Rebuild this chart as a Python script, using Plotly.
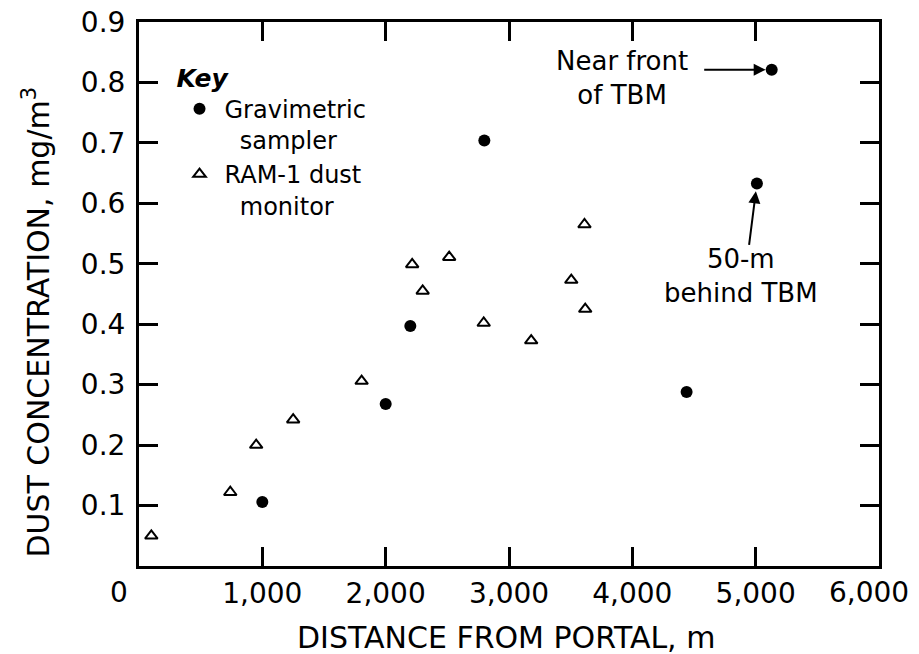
import plotly.graph_objects as go

# Gravimetric sampler (filled circles)
grav_x = [1000, 2000, 2200, 2800, 4440, 5010, 5130]
grav_y = [0.106, 0.268, 0.397, 0.704, 0.288, 0.633, 0.821]

# RAM-1 dust monitor (open triangles)
ram_x = [100, 740, 950, 1250, 1805, 2215, 2300, 2515, 2795, 3180, 3505, 3612, 3618]
ram_y = [0.050, 0.122, 0.200, 0.242, 0.306, 0.499, 0.455, 0.511, 0.402, 0.373, 0.473, 0.565, 0.425]

x_tickvals = [0, 1000, 2000, 3000, 4000, 5000, 6000]
x_ticktext = ["0", "1,000", "2,000", "3,000", "4,000", "5,000", "6,000"]
y_tickvals = [0.1, 0.2, 0.3, 0.4, 0.5, 0.6, 0.7, 0.8, 0.9]
y_ticktext = ["0.1", "0.2", "0.3", "0.4", "0.5", "0.6", "0.7", "0.8", "0.9"]

FONT = "DejaVu Sans"

fig = go.Figure()
fig.add_trace(go.Scatter(
    x=grav_x, y=grav_y, mode="markers",
    name="Gravimetric<br>\u00a0\u00a0sampler",
    marker=dict(symbol="circle", size=12, color="black"),
))
fig.add_trace(go.Scatter(
    x=ram_x, y=ram_y, mode="markers",
    name="RAM-1 dust<br>\u00a0\u00a0monitor",
    marker=dict(symbol="triangle-up-open", size=11, color="black",
                line=dict(width=2, color="black")),
))

axis_common = dict(
    showline=True, linewidth=3, linecolor="black", mirror="ticks",
    ticks="inside", ticklen=19, tickwidth=2.5, tickcolor="black",
    showgrid=False, zeroline=False, automargin=False,
    ticklabeloverflow="allow",
    tickfont=dict(family=FONT, size=28, color="black"),
)

# the end labels "0" and "6,000" sit slightly inward/outward of the corners
# in the reference, so they are drawn separately from the same tick list
x_ticktext_axis = [""] + x_ticktext[1:-1] + [""]
fig.update_xaxes(range=[0, 6000], tickmode="array", tickvals=x_tickvals,
                 ticktext=x_ticktext_axis, ticklabelstandoff=0, **axis_common)
fig.update_yaxes(range=[0, 0.9], tickmode="array", tickvals=y_tickvals,
                 ticktext=y_ticktext, ticklabelstandoff=5, **axis_common)

for i, shift in ((0, -20), (-1, -10)):
    fig.add_annotation(
        text=x_ticktext[i], x=x_tickvals[i], y=0, xref="x", yref="y",
        showarrow=False, xanchor="center", yanchor="top", xshift=shift, yshift=-8,
        font=dict(family=FONT, size=28, color="black"))

fig.add_annotation(
    text="DISTANCE FROM PORTAL, m", xref="paper", yref="paper",
    x=0.496, y=-0.1315, showarrow=False, xanchor="center", yanchor="middle",
    font=dict(family=FONT, size=30, color="black"))
fig.add_annotation(
    text="DUST CONCENTRATION, mg/m<sup>3</sup>", xref="paper", yref="paper",
    x=-0.138, y=0.449, showarrow=False, textangle=-90,
    xanchor="center", yanchor="middle",
    font=dict(family=FONT, size=30, color="black"))

# Labels with arrows
fig.add_annotation(
    text="Near front<br>of TBM", x=3917, y=0.807, showarrow=False,
    align="center", xanchor="center", yanchor="middle",
    font=dict(family=FONT, size=26, color="black"))
fig.add_annotation(
    text="", x=grav_x[6], y=grav_y[6], showarrow=True, ax=-69, ay=0,
    arrowhead=2, arrowsize=1.2, arrowwidth=2, arrowcolor="black", standoff=6)
fig.add_annotation(
    text="50-m<br>behind TBM", x=4882, y=0.48, showarrow=False,
    align="center", xanchor="center", yanchor="middle",
    font=dict(family=FONT, size=26, color="black"))
fig.add_annotation(
    text="", x=grav_x[5], y=grav_y[5], showarrow=True, ax=-8, ay=63,
    arrowhead=2, arrowsize=1.2, arrowwidth=2, arrowcolor="black", standoff=8)

# page body has an 8px margin, so the figure is offset by 8px
fig.update_layout(
    width=919, height=654,
    margin=dict(l=131, r=48, t=14, b=96, autoexpand=False),
    paper_bgcolor="white", plot_bgcolor="white",
    showlegend=True,
    legend=dict(
        title=dict(text="<b><i>Key</i></b>", side="top",
                   font=dict(family=FONT, size=25, color="black")),
        x=0.048, y=0.941, xanchor="left", yanchor="top",
        bgcolor="rgba(0,0,0,0)", borderwidth=0,
        font=dict(family=FONT, size=24, color="black"),
        valign="top", itemsizing="trace", itemwidth=40,
    ),
)

fig.write_html("out.html")
